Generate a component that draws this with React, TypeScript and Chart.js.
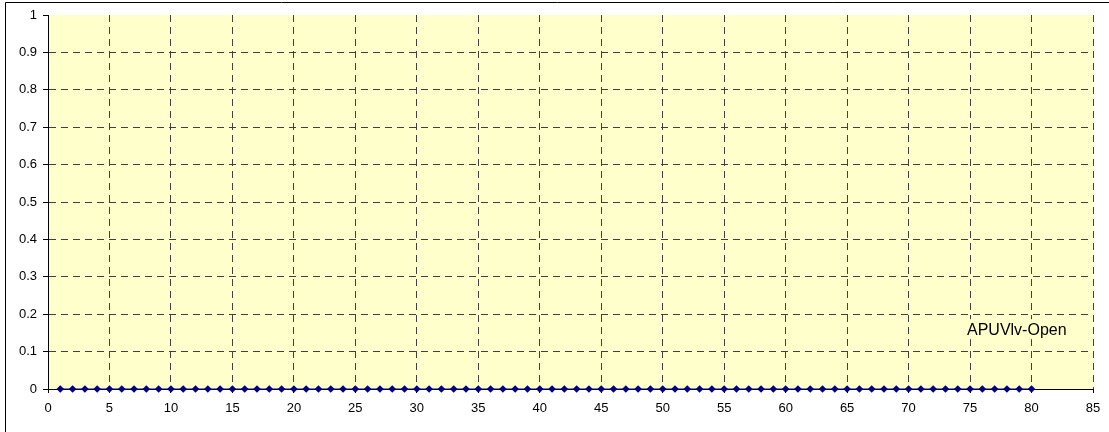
import React, { useEffect, useRef } from "react";
import { Chart, registerables } from "chart.js";

Chart.register(...registerables);

const xValues: number[] = Array.from({ length: 80 }, (_, i) => i + 1);
const yValues: number[] = [
  0, 0, 0, 0, 0, 0, 0, 0, 0, 0,
  0, 0, 0, 0, 0, 0, 0, 0, 0, 0,
  0, 0, 0, 0, 0, 0, 0, 0, 0, 0,
  0, 0, 0, 0, 0, 0, 0, 0, 0, 0,
  0, 0, 0, 0, 0, 0, 0, 0, 0, 0,
  0, 0, 0, 0, 0, 0, 0, 0, 0, 0,
  0, 0, 0, 0, 0, 0, 0, 0, 0, 0,
  0, 0, 0, 0, 0, 0, 0, 0, 0, 0,
];
const seriesName = "APUVlv-Open";

const bgPlugin = {
  id: "bgPlugin",
  beforeDraw(chart: any) {
    const { ctx, chartArea } = chart;
    ctx.save();
    ctx.fillStyle = "#FFFFFF";
    ctx.fillRect(0, 0, chart.width, chart.height);
    ctx.fillStyle = "#FFFFCC";
    ctx.fillRect(chartArea.left, chartArea.top, chartArea.right - chartArea.left, chartArea.bottom - chartArea.top);
    ctx.strokeStyle = "#000000";
    ctx.lineWidth = 1;
    ctx.beginPath();
    ctx.moveTo(5.5, chart.height);
    ctx.lineTo(5.5, 2.5);
    ctx.lineTo(chart.width, 2.5);
    ctx.stroke();
    ctx.restore();
  },
  beforeDatasetsDraw(chart: any) {
    const { ctx } = chart;
    const xs = chart.scales.x;
    const ys = chart.scales.y;
    ctx.save();
    ctx.font = "16px 'Liberation Sans', Arial, sans-serif";
    const x = xs.getPixelForValue(74.75);
    const y = ys.getPixelForValue(0.16);
    const w = ctx.measureText(seriesName).width;
    ctx.fillStyle = "#FFFFCC";
    ctx.fillRect(x - 2, y - 10, w + 4, 20);
    ctx.fillStyle = "#000000";
    ctx.textBaseline = "middle";
    ctx.textAlign = "left";
    ctx.fillText(seriesName, x, y + 1);
    ctx.restore();
  },
};

export default function App() {
  const ref = useRef<HTMLCanvasElement | null>(null);
  useEffect(() => {
    document.body.style.margin = "0";
    const canvas = ref.current;
    if (!canvas) return;
    const chart = new Chart(canvas, {
      type: "line",
      data: {
        datasets: [
          {
            label: seriesName,
            data: xValues.map((x, i) => ({ x, y: yValues[i] })),
            borderColor: "#000080",
            borderWidth: 1,
            backgroundColor: "#000080",
            pointStyle: "rectRot",
            pointRadius: 3.8,
            pointBorderWidth: 0,
            pointBackgroundColor: "#000080",
            showLine: true,
            clip: false,
          },
        ],
      },
      options: {
        animation: false,
        responsive: false,
        maintainAspectRatio: false,
        layout: { padding: { left: 0, right: 16, top: 15, bottom: 0 } },
        plugins: {
          legend: { display: false },
          tooltip: { enabled: false },
        },
        scales: {
          x: {
            type: "linear",
            min: 0,
            max: 85,
            afterFit: (s: any) => { s.height = 43; },
            ticks: {
              stepSize: 5,
              color: "#000000",
              font: { family: "'Liberation Sans', Arial, sans-serif", size: 13 },
              padding: 8,
              maxRotation: 0,
              autoSkip: false,
            },
            grid: {
              color: (c: any) => (c.tick && c.tick.value === 0 ? "rgba(0,0,0,0)" : "#404040"),
              lineWidth: 1,
              tickLength: 4,
              tickColor: "#000000",
            },
            border: { display: true, color: "#000000", width: 1, dash: [7, 5] },
          },
          y: {
            type: "linear",
            min: 0,
            max: 1,
            afterFit: (s: any) => { s.width = 48; },
            ticks: {
              stepSize: 0.1,
              color: "#000000",
              font: { family: "'Liberation Sans', Arial, sans-serif", size: 13 },
              padding: 6,
              callback: (v: any) => String(Math.round(Number(v) * 10) / 10),
            },
            grid: {
              color: (c: any) =>
                c.tick && (c.tick.value === 0 || Math.abs(c.tick.value - 1) < 1e-9) ? "rgba(0,0,0,0)" : "#404040",
              lineWidth: 1,
              tickLength: 5,
              tickColor: "#000000",
            },
            border: { display: true, color: "#000000", width: 1, dash: [7, 5] },
          },
        },
      },
      plugins: [bgPlugin],
    });
    return () => chart.destroy();
  }, []);
  return (
    <div style={{ width: 1109, height: 432 }}>
      <canvas ref={ref} width={1109} height={432} style={{ display: "block" }} />
    </div>
  );
}
